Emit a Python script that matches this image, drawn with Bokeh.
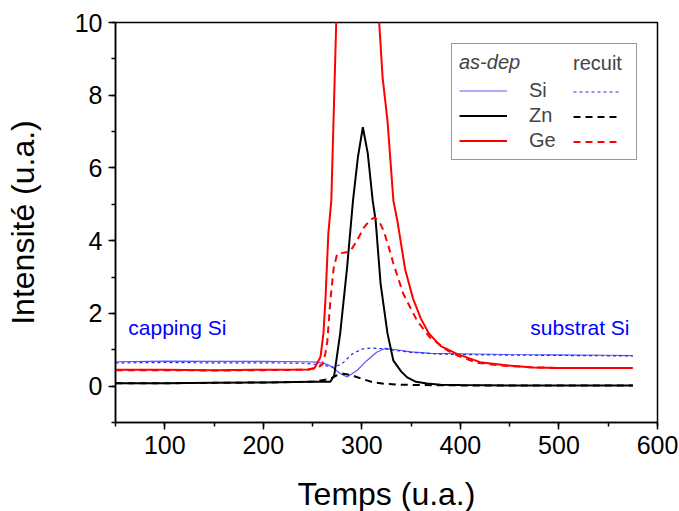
from bokeh.plotting import figure
from bokeh.models import (Legend, LegendItem, Label, SingleIntervalTicker)
from bokeh.embed import file_html
from bokeh.resources import INLINE

# ---------------- data ----------------
si_asdep_x = [50, 100, 150, 200, 240, 255, 265, 270, 278, 285, 295, 305, 315, 324, 335, 350, 370, 400, 450, 500, 550, 575]
si_asdep_y = [0.67, 0.69, 0.68, 0.68, 0.67, 0.66, 0.6, 0.52, 0.35, 0.25, 0.43, 0.7, 0.93, 1.04, 1.0, 0.94, 0.9, 0.89, 0.87, 0.86, 0.85, 0.84]

si_recuit_x = [50, 100, 150, 200, 240, 260, 272, 280, 290, 300, 310, 320, 335, 350, 380, 420, 470, 520, 575]
si_recuit_y = [0.64, 0.65, 0.64, 0.64, 0.63, 0.58, 0.52, 0.62, 0.88, 1.02, 1.05, 1.03, 0.98, 0.93, 0.88, 0.86, 0.85, 0.84, 0.83]

zn_asdep_x = [50, 100, 150, 200, 250, 268, 272, 278, 285, 291, 296, 301, 306, 311, 314, 319, 326, 332, 340, 346, 355, 366, 380, 400, 450, 500, 575]
zn_asdep_y = [0.08, 0.08, 0.09, 0.1, 0.12, 0.12, 0.3, 1.45, 3.26, 5.1, 6.3, 7.12, 6.4, 5.1, 4.55, 2.82, 1.45, 0.7, 0.4, 0.24, 0.12, 0.07, 0.04, 0.03, 0.02, 0.02, 0.02]

zn_recuit_x = [50, 100, 150, 200, 250, 268, 275, 281, 290, 300, 312, 325, 340, 360, 400, 575]
zn_recuit_y = [0.08, 0.08, 0.09, 0.1, 0.12, 0.2, 0.3, 0.34, 0.3, 0.2, 0.1, 0.06, 0.04, 0.03, 0.02, 0.02]

ge_asdep_x = [50, 100, 150, 200, 245, 252, 258, 261, 263, 266, 269, 274, 285, 295, 305, 317.6, 321, 326, 332, 336, 344, 352, 360, 368, 380, 397, 420, 448, 474, 500, 575]
ge_asdep_y = [0.45, 0.45, 0.44, 0.45, 0.46, 0.5, 0.8, 1.45, 2.35, 4.2, 5.1, 10, 14, 16, 14, 10, 8.5, 7.3, 5.1, 4.55, 3.2, 2.4, 1.85, 1.45, 1.1, 0.88, 0.66, 0.57, 0.51, 0.5, 0.5]

ge_recuit_x = [50, 100, 150, 200, 245, 255, 260, 263, 265, 268, 271.5, 275, 288, 295, 302, 308, 313, 318, 322, 327, 332, 342, 356, 369, 387, 397, 416, 440, 472, 500, 575]
ge_recuit_y = [0.44, 0.44, 0.43, 0.44, 0.45, 0.5, 0.6, 0.9, 1.25, 2.35, 3.27, 3.64, 3.7, 4.0, 4.36, 4.56, 4.64, 4.5, 4.28, 3.85, 3.37, 2.54, 1.8, 1.34, 0.98, 0.84, 0.65, 0.57, 0.52, 0.5, 0.5]

series_names = ["Si", "Zn", "Ge"]
x_label = "Temps (u.a.)"
y_label = "Intensité (u.a.)"
legend_titles = ["as-dep", "recuit"]
annot_left = "capping Si"
annot_right = "substrat Si"

FONT = "Liberation Sans"

p = figure(frame_width=542, frame_height=400, x_range=(50, 600), y_range=(-1, 10),
           output_backend="svg", toolbar_location=None,
           min_border_left=115, min_border_top=22, min_border_right=22, min_border_bottom=88)

p.xgrid.visible = False
p.ygrid.visible = False
p.outline_line_color = "black"
p.outline_line_width = 1.5
p.background_fill_color = "white"
p.border_fill_color = "white"

p.xaxis.ticker = SingleIntervalTicker(interval=100, num_minor_ticks=2)
p.yaxis.ticker = SingleIntervalTicker(interval=2, num_minor_ticks=2)
for ax in (p.xaxis[0], p.yaxis[0]):
    ax.axis_line_width = 1.5
    ax.axis_line_color = "black"
    ax.major_tick_line_width = 1.5
    ax.minor_tick_line_width = 1.5
    ax.major_tick_in = 0
    ax.major_tick_out = 7
    ax.minor_tick_in = 0
    ax.minor_tick_out = 4
    ax.major_label_text_font = FONT
    ax.major_label_text_font_size = "25px"
    ax.major_label_text_color = "black"
    ax.axis_label_text_font = FONT
    ax.axis_label_text_font_size = "32px"
    ax.axis_label_text_font_style = "normal"
    ax.axis_label_text_color = "black"
p.xaxis.axis_label = x_label
p.yaxis.axis_label = y_label
p.xaxis.major_label_standoff = 6
p.yaxis.major_label_standoff = 6
p.xaxis.axis_label_standoff = 19
p.yaxis.axis_label_standoff = 31

r_si_a = p.line(si_asdep_x, si_asdep_y, line_color="#5a5aff", line_width=1.2)
r_si_r = p.line(si_recuit_x, si_recuit_y, line_color="#2626ff", line_width=1.2, line_dash="3 3")
r_zn_a = p.line(zn_asdep_x, zn_asdep_y, line_color="black", line_width=2)
r_zn_r = p.line(zn_recuit_x, zn_recuit_y, line_color="black", line_width=2, line_dash="7 5")
r_ge_a = p.line(ge_asdep_x, ge_asdep_y, line_color="#ff0000", line_width=2)
r_ge_r = p.line(ge_recuit_x, ge_recuit_y, line_color="#ff0000", line_width=2, line_dash="7 5")

p.add_layout(Label(x=63, y=1.61, text=annot_left, text_color="#0000ff", text_font=FONT,
                   text_font_size="21px", text_baseline="middle", text_align="left"))
p.add_layout(Label(x=571.6, y=1.61, text=annot_right, text_color="#0000ff", text_font=FONT,
                   text_font_size="21px", text_baseline="middle", text_align="right"))

common = dict(label_text_font=FONT, label_text_font_size="20px", title_text_font=FONT,
              title_text_font_size="20px", glyph_width=48, glyph_height=23, label_height=23,
              spacing=2, padding=7, title_standoff=5, margin=0)

leg1 = Legend(items=[LegendItem(label=series_names[0], renderers=[r_si_a]),
                     LegendItem(label=series_names[1], renderers=[r_zn_a]),
                     LegendItem(label=series_names[2], renderers=[r_ge_a])],
              title=legend_titles[0], title_text_font_style="italic",
              label_standoff=22, label_width=100, location=(336, 262),
              border_line_color="#333333", border_line_width=1.5,
              background_fill_color="white", background_fill_alpha=1.0, **common)
leg2 = Legend(items=[LegendItem(label=" ", renderers=[r_si_r]),
                     LegendItem(label=" ", renderers=[r_zn_r]),
                     LegendItem(label=" ", renderers=[r_ge_r])],
              title=legend_titles[1], title_text_font_style="normal",
              label_standoff=0, label_width=1, location=(451, 262),
              border_line_alpha=0, background_fill_alpha=0, **common)
p.add_layout(leg1, "center")
p.add_layout(leg2, "center")

open("out.html", "w").write(file_html(p, INLINE))
